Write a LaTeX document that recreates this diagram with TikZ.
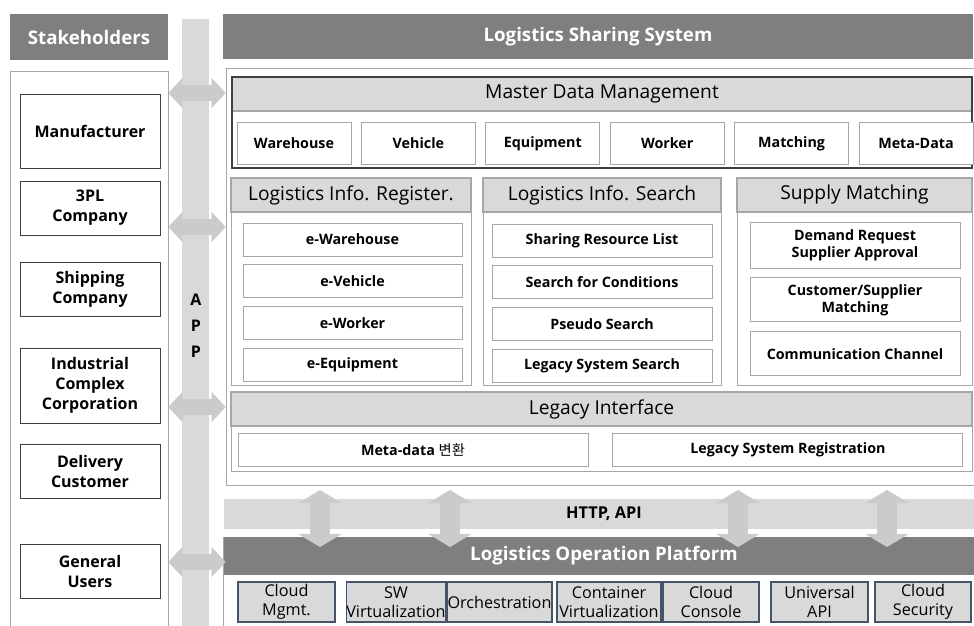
\documentclass[tikz,border=0pt]{standalone}
\usepackage{fontspec}
\setmainfont{Open Sans}
\newfontfamily\krfont{Noto Sans CJK KR}
\usepackage{xcolor}
\definecolor{headgray}{RGB}{127,127,127}
\definecolor{bargray}{RGB}{217,217,217}
\definecolor{linegray}{RGB}{166,166,166}
\definecolor{darkline}{RGB}{64,64,64}
\definecolor{slateline}{RGB}{68,84,106}
\definecolor{arrowgray}{RGB}{203,203,203}
\usetikzlibrary{arrows.meta, positioning}

\begin{document}
\begin{tikzpicture}[x=1pt, y=-1pt, node distance=8pt]
  \tikzstyle{banner} = [rectangle, fill=headgray, text=white, font=\fontsize{18.7}{22}\selectfont\bfseries, inner sep=0pt]
  \tikzstyle{panel} = [rectangle, draw=linegray, fill=white, line width=0.8pt, inner sep=0pt]
  \tikzstyle{actor} = [rectangle, draw=darkline, fill=white, line width=0.9pt, minimum width=140pt, align=center, font=\fontsize{16}{20}\selectfont\bfseries, inner sep=0pt]
  \tikzstyle{title} = [rectangle, draw=linegray, fill=bargray, line width=1.4pt, font=\fontsize{19.2}{22}\selectfont, inner sep=0pt, minimum height=34pt]
  \tikzstyle{item} = [rectangle, draw=linegray, fill=white, line width=0.9pt, align=center, font=\fontsize{14.3}{17}\selectfont\bfseries, inner sep=0pt]
  \tikzstyle{infra} = [rectangle, draw=slateline, fill=bargray, line width=1.3pt, align=center, font=\fontsize{16.2}{19.5}\selectfont, inner sep=0pt, minimum height=40pt]
  \tikzstyle{harrow} = [arrowgray, line width=16pt, {Triangle[length=14pt, width=30pt, line width=0.4pt]}-{Triangle[length=14pt, width=30pt, line width=0.4pt]}]
  \tikzstyle{varrow} = [arrowgray, line width=20pt, {Triangle[length=13pt, width=43pt, line width=0.4pt]}-{Triangle[length=13pt, width=43pt, line width=0.4pt]}]

  \fill[white] (0,0) rectangle (974,626);
  \clip (0,0) rectangle (974,626);

  % stakeholders side
  \node[panel, minimum width=158pt, minimum height=580pt] (stpanel) at (89,361) {};
  \node[banner, minimum width=158pt, minimum height=46pt] (sthead) at (89,37) {Stakeholders};
  \node[banner, minimum width=750pt, minimum height=45pt] (syshead) at (598,36.5) {Logistics Sharing System};
  \node[rectangle, fill=bargray, minimum width=27pt, minimum height=640pt, inner sep=0pt] (appbar) at (195.5,339) {};
  \node[align=center, font=\fontsize{16}{26}\selectfont\bfseries, inner sep=0pt] (app) at (196,326) {A\\P\\P};

  \node[actor, minimum height=74pt] (manu) at (90,131) {Manufacturer};
  \node[actor, minimum height=54pt] (tpl) at (90,208) {3PL\\Company};
  \node[actor, minimum height=54pt] (ship) at (90,289) {Shipping\\Company};
  \node[actor, minimum height=75pt] (indu) at (90,385.5) {Industrial\\Complex\\Corporation};
  \node[actor, minimum height=54pt] (deli) at (90,471) {Delivery\\Customer};
  \node[actor, minimum height=54pt] (user) at (90,571) {General\\Users};

  % system box
  \node[panel, minimum width=760pt, minimum height=417pt] (sysbox) at (606,276.5) {};

  \node[title, minimum width=740pt] (mdm) at (602,94) {Master Data Management};
  \node[rectangle, draw=darkline, line width=1.3pt, minimum width=740pt, minimum height=91pt, inner sep=0pt] (mdmbox) at (602,122.5) {};
  \node[item, minimum width=114pt, minimum height=42pt] (wh) at (294,143.5) {Warehouse};
  \node[item, minimum width=114pt, minimum height=42pt, right=9.5pt of wh] (veh) {Vehicle};
  \node[item, minimum width=114pt, minimum height=42pt, right=9.5pt of veh] (equ) {Equipment};
  \node[item, minimum width=114pt, minimum height=42pt, right=9.5pt of equ] (wrk) {Worker};
  \node[item, minimum width=114pt, minimum height=42pt, right=9.5pt of wrk] (mat) {Matching};
  \node[item, minimum width=114pt, minimum height=42pt, right=9.5pt of mat] (meta) {Meta-Data};

  \node[panel, line width=1pt, minimum width=240pt, minimum height=207pt] (regbox) at (351,281.5) {};
  \node[title, minimum width=240pt] (reg) at (351,195) {Logistics Info. Register.};
  \node[item, minimum width=219pt, minimum height=33pt] (ewh) at (352.5,239.5) {e-Warehouse};
  \node[item, minimum width=219pt, minimum height=33pt, below=8pt of ewh] (eveh) {e-Vehicle};
  \node[item, minimum width=219pt, minimum height=33pt, below=8pt of eveh] (ewrk) {e-Worker};
  \node[item, minimum width=219pt, minimum height=33pt, below=8pt of ewrk] (eequ) {e-Equipment};

  \node[panel, line width=1pt, minimum width=238pt, minimum height=207pt] (srchbox) at (602,281.5) {};
  \node[title, minimum width=238pt] (srch) at (602,195) {Logistics Info. Search};
  \node[item, minimum width=220pt, minimum height=33pt] (share) at (602,240.5) {Sharing Resource List};
  \node[item, minimum width=220pt, minimum height=33pt, below=8pt of share] (cond) {Search for Conditions};
  \node[item, minimum width=220pt, minimum height=33pt, below=8pt of cond] (pseudo) {Pseudo Search};
  \node[item, minimum width=220pt, minimum height=33pt, below=8pt of pseudo] (lgsrch) {Legacy System Search};

  \node[panel, line width=1pt, minimum width=235pt, minimum height=207pt] (supbox) at (854.5,281.5) {};
  \node[title, minimum width=235pt] (sup) at (854.5,195) {Supply Matching};
  \node[item, minimum width=210pt, minimum height=46pt] (demand) at (855,245) {Demand Request\\Supplier Approval};
  \node[item, minimum width=210pt, minimum height=44pt, below=9pt of demand] (cust) {Customer/Supplier\\Matching};
  \node[item, minimum width=210pt, minimum height=44pt, below=9pt of cust] (comm) {Communication Channel};

  \node[panel, line width=1pt, minimum width=741pt, minimum height=79pt] (legbox) at (601.5,431.5) {};
  \node[title, minimum width=741pt] (leg) at (601.5,409) {Legacy Interface};
  \node[item, minimum width=350pt, minimum height=33pt] (conv) at (413,449.5) {Meta-data {\krfont\mdseries 변환}};
  \node[item, minimum width=350pt, minimum height=33pt, right=24pt of conv] (lgreg) {Legacy System Registration};

  % operation platform
  \node[rectangle, fill=bargray, minimum width=760pt, minimum height=30pt, inner sep=0pt, font=\fontsize{16.3}{19}\selectfont\bfseries] (http) at (604,514) {HTTP, API};
  \node[panel, minimum width=760pt, minimum height=100pt] (platbox) at (603,587) {};
  \node[banner, minimum width=760pt, minimum height=38pt] (plat) at (604,556) {Logistics Operation Platform};

  \node[infra, minimum width=97pt] (cmgmt) at (286.5,602) {Cloud\\Mgmt.};
  \node[infra, minimum width=98pt] (swv) at (396,602) {SW\\Virtualization};
  \node[infra, minimum width=105pt] (orch) at (499.5,602) {Orchestration};
  \node[infra, minimum width=104pt] (cntv) at (609,602) {Container\\Virtualization};
  \node[infra, minimum width=96pt] (ccons) at (711,602) {Cloud\\Console};
  \node[infra, minimum width=97pt] (uapi) at (819.5,602) {Universal\\API};
  \node[infra, minimum width=96pt] (csec) at (923,602) {Cloud\\Security};

  % arrows
  \foreach \y [count=\i] in {93,227,407,562} {
    \coordinate (lt\i) at (stpanel.east |- 0,\y);
    \coordinate (rt\i) at (sysbox.west |- 0,\y);
    \draw[harrow] (lt\i) -- (rt\i);
  }
  \foreach \x [count=\i] in {320,450,738,887} {
    \coordinate (up\i) at (\x,490);
    \coordinate (dn\i) at (\x,547);
    \draw[varrow] (up\i) -- (dn\i);
  }
\end{tikzpicture}
\end{document}
